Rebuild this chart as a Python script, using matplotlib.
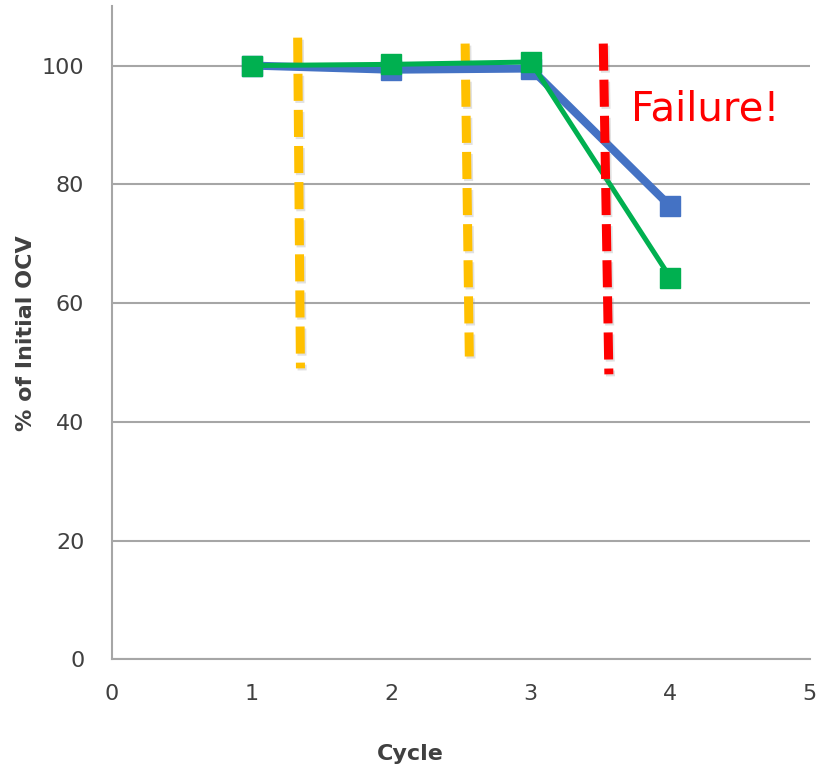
import numpy as np
import matplotlib
matplotlib.use("Agg")
import matplotlib.pyplot as plt
import matplotlib.transforms as mtransforms

plt.rcParams["lines.scale_dashes"] = False

# data
cycles = [1, 2, 3, 4]
ocv_blue = [100.0, 99.3, 99.5, 76.3]
ocv_green = [100.0, 100.2, 100.6, 64.3]

# vertical dashed markers: (x_top, y_top, x_bottom, y_bottom)
yellow_marks = [(1.33, 104.7, 1.35, 49.0), (2.53, 103.7, 2.56, 51.0)]
red_mark = (3.52, 103.7, 3.56, 48.0)

BLUE = "#4472C4"
GREEN = "#00B050"
YELLOW = "#FFC000"
RED = "#FF0000"
GRID = "#A6A6A6"
TXT = "#404040"

fig = plt.figure(figsize=(8.18, 7.72), dpi=100, facecolor="white")
ax = fig.add_axes([0.137, 0.146, 0.853, 0.846])

ax.set_xlim(0, 5)
ax.set_ylim(0, 110)
ax.set_yticks([0, 20, 40, 60, 80, 100])
ax.set_xticks([0, 1, 2, 3, 4, 5])
ax.grid(axis="y", color=GRID, lw=1.5)
ax.set_axisbelow(True)
for s in ["top", "right"]:
    ax.spines[s].set_visible(False)
for s in ["left", "bottom"]:
    ax.spines[s].set_color(GRID)
    ax.spines[s].set_linewidth(1.5)
ax.tick_params(length=0, labelsize=16, colors=TXT)
ax.tick_params(axis="x", pad=18)
ax.tick_params(axis="y", pad=20)

shadow_tr = mtransforms.offset_copy(ax.transData, fig=fig, x=1.2, y=-1.5, units="points")
DASH = (0, (19.5, 6.5))


def dashed_mark(mark, color, z):
    xt, yt, xb, yb = mark
    # soft drop shadow, then the dashed line itself
    ax.plot([xt, xb], [yt, yb], color="#888888", alpha=0.25, lw=6.5,
            linestyle=DASH, dash_capstyle="butt", transform=shadow_tr, zorder=z - 0.1)
    ax.plot([xt, xb], [yt, yb], color=color, lw=6.5,
            linestyle=DASH, dash_capstyle="butt", zorder=z)


for m in yellow_marks:
    dashed_mark(m, YELLOW, 2)
dashed_mark(red_mark, RED, 5)

ax.plot(cycles, ocv_blue, color=BLUE, lw=5.8, marker="s", ms=14, zorder=3)
ax.plot(cycles, ocv_green, color=GREEN, lw=3.6, marker="s", ms=14, zorder=4)

ax.text(3.72, 92.6, "Failure!", color=RED, fontsize=29, va="center", ha="left")

ax.set_ylabel("% of Initial OCV", fontsize=16, fontweight="bold", color=TXT, labelpad=4)
ax.set_xlabel("Cycle", fontsize=16, fontweight="bold", color=TXT)
ax.xaxis.set_label_coords(0.428, -0.13)

fig.savefig("out.png", dpi=100)
